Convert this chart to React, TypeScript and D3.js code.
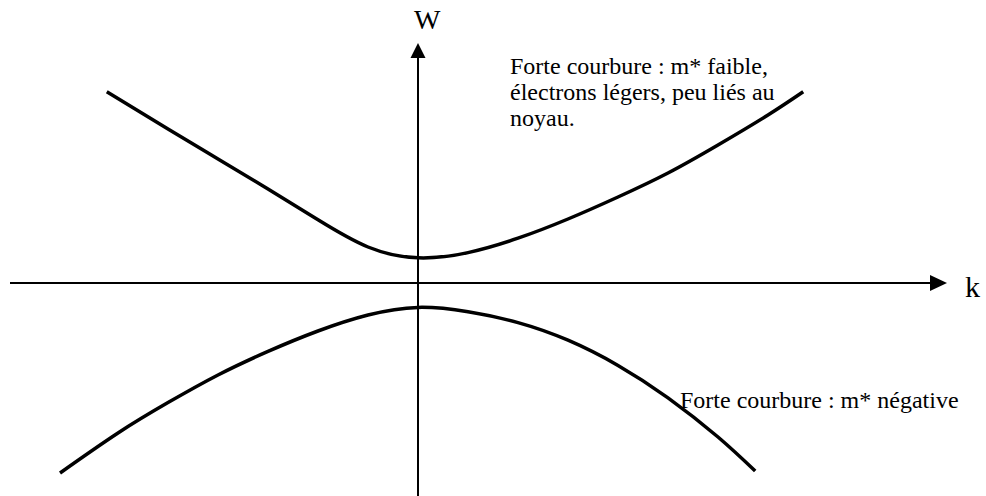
import React, { useEffect, useRef } from "react";
import * as d3 from "d3";

// Conduction band (upper curve): k and W values
const upperK = [-7.78, -6.25, -5, -3.75, -2.5, -1.25, 0, 1.25, 2.5, 3.75, 5, 6.25, 7.5, 8.75, 9.63];
const upperW = [4.78, 3.85, 3.1, 2.35, 1.58, 0.9, 0.63, 0.76, 1.12, 1.6, 2.15, 2.75, 3.45, 4.2, 4.78];
// Valence band (lower curve): k and W values
const lowerK = [-8.95, -7.5, -6.25, -5, -3.75, -2.5, -1.25, 0, 1.25, 2.5, 3.75, 5, 6.25, 7.5, 8.43];
const lowerW = [-4.75, -3.75, -2.99, -2.3, -1.71, -1.2, -0.8, -0.61, -0.72, -0.99, -1.43, -2.06, -2.87, -3.85, -4.7];

const axisLabels = { x: "k", y: "W" };
const noteTop = ["Forte courbure : m* faible,", "électrons légers, peu liés au", "noyau."];
const noteBottom = "Forte courbure : m* négative";

const W = 986;
const H = 496;

export default function App() {
  const ref = useRef<SVGSVGElement>(null);
  useEffect(() => {
    const svg = d3.select(ref.current);
    svg.selectAll("*").remove();
    const x = d3.scaleLinear().domain([-10, 10]).range([18, 818]);
    const y = d3.scaleLinear().domain([-5, 5]).range([483, 83]);
    const font = "'Liberation Serif', 'Times New Roman', serif";

    // axes
    svg.append("line").attr("x1", 10).attr("x2", 932).attr("y1", y(0)).attr("y2", y(0))
      .attr("stroke", "#000").attr("stroke-width", 2);
    svg.append("path")
      .attr("d", `M947,${y(0)} L930,${y(0) - 8} L930,${y(0) + 8} Z`).attr("fill", "#000");
    svg.append("line").attr("x1", x(0)).attr("x2", x(0)).attr("y1", 56).attr("y2", H)
      .attr("stroke", "#000").attr("stroke-width", 2);
    svg.append("path")
      .attr("d", `M${x(0)},43 L${x(0) - 7.5},58 L${x(0) + 7.5},58 Z`).attr("fill", "#000");

    svg.append("text").attr("x", 414).attr("y", 29).attr("font-family", font)
      .attr("font-size", 28).text(axisLabels.y);
    svg.append("text").attr("x", 965).attr("y", 297).attr("font-family", font)
      .attr("font-size", 30).text(axisLabels.x);

    const line = d3.line<[number, number]>().x(d => x(d[0])).y(d => y(d[1])).curve(d3.curveNatural);
    const up = upperK.map((k, i) => [k, upperW[i]] as [number, number]);
    const lo = lowerK.map((k, i) => [k, lowerW[i]] as [number, number]);
    [up, lo].forEach(data => {
      svg.append("path").attr("d", line(data)).attr("fill", "none")
        .attr("stroke", "#000").attr("stroke-width", 3.5);
    });

    const t = svg.append("text").attr("font-family", font).attr("font-size", 24);
    noteTop.forEach((s, i) => {
      t.append("tspan").attr("x", 510).attr("y", 74 + i * 26).text(s);
    });
    svg.append("text").attr("x", 680).attr("y", 408).attr("font-family", font)
      .attr("font-size", 24).text(noteBottom);
  }, []);
  return (
    <svg ref={ref} width={W} height={H} style={{ position: "absolute", left: 0, top: 0, background: "#fff" }} />
  );
}
